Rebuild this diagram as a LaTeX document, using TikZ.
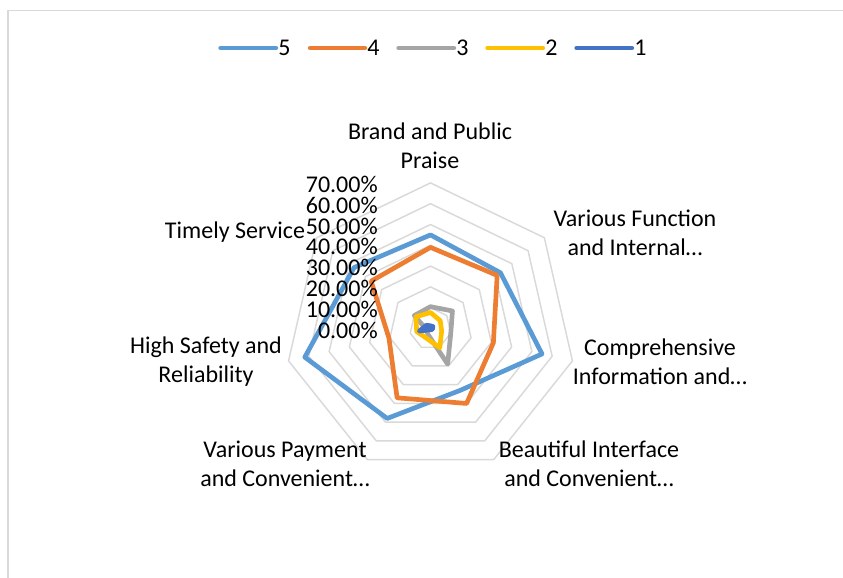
\documentclass[tikz,border=0pt]{standalone}
\usepackage{fontspec}
\setmainfont{Carlito}
\usepackage{xcolor}
\usepackage{tikz}

\definecolor{sfive}{HTML}{5B9BD5}
\definecolor{sfour}{HTML}{ED7D31}
\definecolor{sthree}{HTML}{A5A5A5}
\definecolor{stwo}{HTML}{FFC000}
\definecolor{sone}{HTML}{4472C4}
\definecolor{gridgray}{HTML}{D9D9D9}

\tikzset{
    ring/.style = {draw = gridgray, line width = 1.1pt, line join = round},
    series/.style = {line width = 3.5pt, line join = round, line cap = round},
    legline/.style = {line width = 3.2pt, line cap = round},
    catlabel/.style = {align = center, inner sep = 0pt},
    ticklabel/.style = {anchor = east, inner sep = 0pt},
    frame/.style = {draw = gridgray, line width = 1.2pt}
}

\begin{document}
\begin{tikzpicture}[x = 0.75pt, y = 0.75pt, font = \fontsize{18}{21.75}\selectfont]
        \useasboundingbox (0, 0) rectangle (843, 578);
        \draw[frame] (8, 0) -- (8, 567.5) -- (843, 567.5);

        \coordinate (ctr) at (430.5, 249.5);

        % grid and data, radius in percent
        \begin{scope}[shift = {(ctr)}, x = 1.56pt, y = 1.56pt]
            \foreach \r in {10, 20, ..., 70} {
                \draw[ring] (90:\r) -- (38.571:\r) -- (-12.857:\r) -- (-64.286:\r)
                    -- (-115.714:\r) -- (-167.143:\r) -- (141.429:\r) -- cycle;
            }

            \draw[series, sfive] (90:45) -- (38.571:43) -- (-12.857:55) -- (-64.286:33)
                -- (-115.714:48) -- (-167.143:62) -- (141.429:47) -- cycle;
            \draw[series, sfour] (90:39) -- (38.571:41) -- (-12.857:31) -- (-64.286:40)
                -- (-115.714:37) -- (-167.143:20.5) -- (141.429:36.5) -- cycle;
            \draw[series, sthree] (90:10.5) -- (38.571:13.5) -- (-12.857:10) -- (-64.286:19)
                -- (-115.714:3) -- (-167.143:2) -- (141.429:10) -- cycle;
            \draw[series, stwo] (90:7.7) -- (38.571:6) -- (-12.857:5.5) -- (-64.286:10.3)
                -- (-115.714:5) -- (-167.143:6.8) -- (141.429:9) -- cycle;
            \draw[series, sone] (90:1.3) -- (38.571:1.5) -- (-12.857:1) -- (-64.286:0.7)
                -- (-115.714:0.7) -- (-167.143:5.5) -- (141.429:2.5) -- cycle;
        \end{scope}

        % value axis
        \foreach \k/\t in {0/0.00, 1/10.00, 2/20.00, 3/30.00, 4/40.00, 5/50.00, 6/60.00, 7/70.00} {
            \node[ticklabel] (tick\k) at (378, 248 + \k*20.8) {\t\%};
        }

        % categories
        \node[catlabel] (brand) at (430, 432.5) {Brand and Public\\Praise};
        \node[catlabel] (function) at (635, 345.5) {Various Function\\and Internal…};
        \node[catlabel] (inform) at (660, 216.5) {Comprehensive\\Information and…};
        \node[catlabel] (beauty) at (589, 114.5) {Beautiful Interface\\and Convenient…};
        \node[catlabel] (payment) at (285, 114.5) {Various Payment\\and Convenient…};
        \node[catlabel] (safety) at (206, 216.5) {High Safety and\\Reliability};
        \node[catlabel] (timely) at (235, 346) {Timely Service};

        % legend
        \draw[legline, sfive] (220.5, 530) -- (276, 530);
        \node[anchor = west, inner sep = 0pt] (leg5) at (278, 530) {5};
        \draw[legline, sfour] (310, 530) -- (365, 530);
        \node[anchor = west, inner sep = 0pt] (leg4) at (367, 530) {4};
        \draw[legline, sthree] (398.5, 530) -- (454, 530);
        \node[anchor = west, inner sep = 0pt] (leg3) at (456, 530) {3};
        \draw[legline, stwo] (487.5, 530) -- (543, 530);
        \node[anchor = west, inner sep = 0pt] (leg2) at (545, 530) {2};
        \draw[legline, sone] (576.5, 530) -- (632, 530);
        \node[anchor = west, inner sep = 0pt] (leg1) at (634, 530) {1};
    \end{tikzpicture}
\end{document}
